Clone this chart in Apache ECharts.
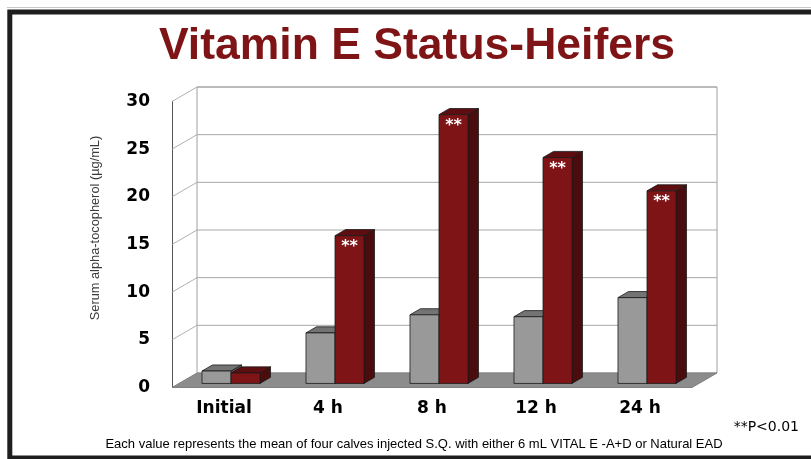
<!DOCTYPE html>
<html>
<head>
<meta charset="utf-8">
<style>
  html, body { margin: 0; padding: 0; background: #ffffff; }
  #chart { width: 811px; height: 459px; }
</style>
<script src="https://cdn.jsdelivr.net/npm/echarts@6/dist/echarts.min.js"></script>
</head>
<body>
<div id="chart"></div>
<script>
// ---- data ----
var categories = ['Initial', '4 h', '8 h', '12 h', '24 h'];
var grayValues = [1.3, 5.3, 7.2, 7.0, 9.0];
var redValues = [1.1, 15.5, 28.2, 23.7, 20.2];
var significance = ['', '**', '**', '**', '**'];
var yTicks = [0, 5, 10, 15, 20, 25, 30];

// ---- geometry / style ----
var DX = 25, DY = -14.5;          // depth offset of the back wall
var D0 = 0.28, DD = 0.42;         // bar depth start and thickness (fraction of depth)
var BARW = 0.279;                 // bar width as fraction of category band

var chart = echarts.init(document.getElementById('chart'), null, { renderer: 'canvas' });

function sceneItem(params, api) {
  var cs = params.coordSys;
  var x0 = cs.x, y0 = cs.y, w = cs.width, h = cs.height;
  var children = [];
  children.push({
    type: 'rect',
    shape: { x: x0 + DX, y: y0 + DY, width: w, height: h },
    style: { fill: '#ffffff', stroke: '#a0a0a0', lineWidth: 1 }
  });
  for (var i = 0; i < yTicks.length; i++) {
    var y = api.coord([0, yTicks[i]])[1];
    if (yTicks[i] > 0) {
      children.push({
        type: 'line',
        shape: { x1: x0 + DX, y1: y + DY, x2: x0 + DX + w, y2: y + DY },
        style: { stroke: '#a8a8a8', lineWidth: 1 }
      });
      children.push({
        type: 'line',
        shape: { x1: x0, y1: y, x2: x0 + DX, y2: y + DY },
        style: { stroke: '#9c9c9c', lineWidth: 0.8 }
      });
    }
  }
  children.push({
    type: 'polygon',
    shape: { points: [[x0, y0 + h], [x0 + w, y0 + h], [x0 + w + DX, y0 + h + DY], [x0 + DX, y0 + h + DY]] },
    style: { fill: '#8c8c8c', stroke: '#808080', lineWidth: 1 }
  });
  return { type: 'group', children: children };
}

function makeBarRenderer(side, colors, labels) {
  return function (params, api) {
    var idx = api.value(0);
    var val = api.value(1);
    var base = api.coord([idx, 0]);
    var top = api.coord([idx, val]);
    var band = api.size([1, 0])[0];
    var bw = band * BARW;
    var cx = base[0] + DX * D0;
    var xl = side === 0 ? cx - bw : cx;
    var xr = xl + bw;
    var yb = base[1] + DY * D0;
    var yt = top[1] + DY * D0;
    var ddx = DX * DD, ddy = DY * DD;
    var edge = { stroke: '#1a1a1a', lineWidth: 0.8 };
    var children = [
      { type: 'polygon', shape: { points: [[xr, yt], [xr + ddx, yt + ddy], [xr + ddx, yb + ddy], [xr, yb]] },
        style: Object.assign({ fill: colors.side }, edge) },
      { type: 'polygon', shape: { points: [[xl, yt], [xr, yt], [xr + ddx, yt + ddy], [xl + ddx, yt + ddy]] },
        style: Object.assign({ fill: colors.top }, edge) },
      { type: 'rect', shape: { x: xl, y: yt, width: bw, height: yb - yt },
        style: Object.assign({ fill: colors.front }, edge) }
    ];
    if (labels && labels[idx]) {
      children.push({
        type: 'text',
        x: xl + bw / 2, y: yt + 3,
        style: { text: labels[idx], fill: '#ffffff', align: 'center', verticalAlign: 'top',
                 font: 'bold 16px "DejaVu Sans"' }
      });
    }
    return { type: 'group', children: children };
  };
}

var option = {
  backgroundColor: '#ffffff',
  animation: false,
  grid: { left: 172, top: 101.5, width: 520, height: 286, containLabel: false },
  xAxis: {
    type: 'category',
    data: categories,
    boundaryGap: true,
    axisLine: { show: false },
    axisTick: { show: false },
    splitLine: { show: false },
    axisLabel: { margin: 13, color: '#000', fontFamily: 'DejaVu Sans', fontWeight: 'bold', fontSize: 17 }
  },
  yAxis: {
    type: 'value',
    min: 0, max: 30, interval: 5,
    axisLine: { show: true, lineStyle: { color: '#555555', width: 1 } },
    axisTick: { show: false },
    splitLine: { show: false },
    axisLabel: { margin: 22, color: '#000', fontFamily: 'DejaVu Sans', fontWeight: 'bold', fontSize: 17 }
  },
  series: [
    {
      type: 'custom', name: 'scene', silent: true, z: 1,
      renderItem: sceneItem,
      data: [[0, 0]]
    },
    {
      type: 'custom', name: 'VITAL E-A+D', z: 2,
      renderItem: makeBarRenderer(0, { front: '#999999', top: '#737373', side: '#616161' }, null),
      data: grayValues.map(function (v, i) { return [i, v]; })
    },
    {
      type: 'custom', name: 'Natural EAD', z: 3,
      renderItem: makeBarRenderer(1, { front: '#7e1416', top: '#5e0d10', side: '#4b0c0e' }, significance),
      data: redValues.map(function (v, i) { return [i, v]; })
    }
  ],
  graphic: [
    { type: 'polyline', z: 100, shape: { points: [[811, 12], [9.8, 12], [9.8, 458], [811, 458]] },
      style: { stroke: '#1e1e1e', lineWidth: 5, fill: null } },
    { type: 'line', z: 100, shape: { x1: 7, y1: 7.5, x2: 811, y2: 7.5 }, style: { stroke: '#c8c8c8', lineWidth: 1 } },
    { type: 'text', z: 100, x: 417, y: 46.5,
      style: { text: 'Vitamin E Status-Heifers', fill: '#7e1416', align: 'center', verticalAlign: 'middle',
               font: 'bold 44.5px "Liberation Sans"' } },
    { type: 'text', z: 100, x: 95, y: 228, rotation: Math.PI / 2,
      style: { text: 'Serum alpha-tocopherol (µg/mL)', fill: '#3a3a3a', align: 'center', verticalAlign: 'middle',
               font: '12.8px "Liberation Sans"' } },
    { type: 'text', z: 100, x: 799, y: 427,
      style: { text: '**P<0.01', fill: '#000', align: 'right', verticalAlign: 'middle',
               font: '14px "DejaVu Sans"' } },
    { type: 'text', z: 100, x: 414, y: 444,
      style: { text: 'Each value represents the mean of four calves injected S.Q. with either 6 mL VITAL E -A+D or Natural EAD',
               fill: '#000', align: 'center', verticalAlign: 'middle', font: '13px "Liberation Sans"' } }
  ]
};
chart.setOption(option);
</script>
</body>
</html>
